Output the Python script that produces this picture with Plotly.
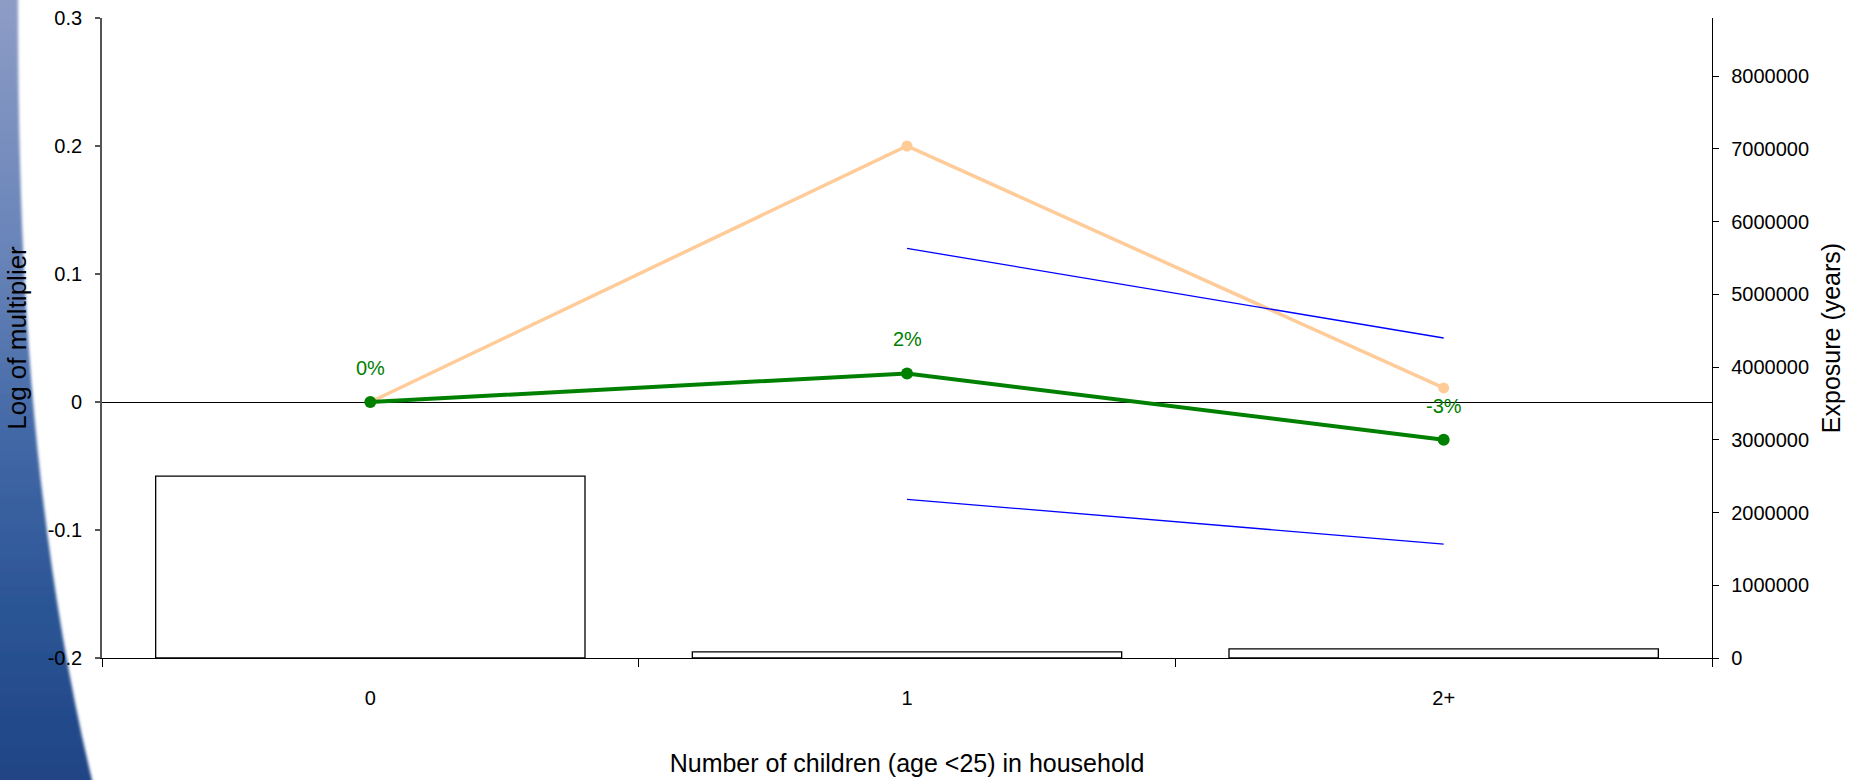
import base64
import math
import plotly.graph_objects as go

# ---- data -------------------------------------------------------------
categories = ["0", "1", "2+"]
exposure_years = [2500000, 85000, 125000]          # bars, right axis
fitted_log_mult = [0.0, 0.0223, -0.0295]            # green line
observed_log_mult = [0.0, 0.200, 0.011]             # peach line
band_categories = ["1", "2+"]
band_upper = [0.120, 0.050]                         # blue upper bound
band_lower = [-0.076, -0.111]                       # blue lower bound

left_tickvals = [-0.2, -0.1, 0.0, 0.1, 0.2, 0.3]
left_ticktext = ["-0.2", "-0.1", "0", "0.1", "0.2", "0.3"]
right_tickvals = [0, 1000000, 2000000, 3000000, 4000000,
                  5000000, 6000000, 7000000, 8000000]
right_ticktext = ["0", "1000000", "2000000", "3000000", "4000000",
                  "5000000", "6000000", "7000000", "8000000"]

W, H = 1866, 780
FONT = "Arial, Liberation Sans, sans-serif"
GREEN = "#008000"
PEACH = "#FFCC99"

# ---- decorative slide background (blue swoosh on the left edge) -------
svg = f"""<svg xmlns="http://www.w3.org/2000/svg" width="{W}" height="{H}" viewBox="0 0 {W} {H}">
<defs>
<linearGradient id="g" x1="0" y1="0" x2="0" y2="1">
<stop offset="0" stop-color="#8E9DC6"/>
<stop offset="0.33" stop-color="#6783B8"/>
<stop offset="0.55" stop-color="#4268A6"/>
<stop offset="0.75" stop-color="#2C5696"/>
<stop offset="1" stop-color="#1E4283"/>
</linearGradient>
<filter id="b" x="-1" y="-0.1" width="3" height="1.2"><feGaussianBlur stdDeviation="1.8"/></filter>
</defs>
<path d="M-20,-10 L18,-10 L18,0 C18,250 30,520 92,780 L96,800 L-20,800 Z" fill="url(#g)" filter="url(#b)"/>
</svg>"""
bg_uri = "data:image/svg+xml;base64," + base64.b64encode(svg.encode()).decode()

# ---- plot geometry (fractions of the page) ----------------------------
x_dom = [102 / W, 1712 / W]
y_dom = [(H - 658) / H, (H - 18) / H]
left_range = [-0.2, 0.3]
right_range = [0, 8800000]

fig = go.Figure()

fig.add_trace(go.Bar(
    x=categories, y=exposure_years, yaxis="y2", width=0.8,
    marker=dict(color="white", line=dict(color="black", width=1.3)),
    hoverinfo="skip", showlegend=False,
))
fig.add_trace(go.Scatter(
    x=categories, y=observed_log_mult, mode="lines+markers",
    line=dict(color=PEACH, width=3.5), marker=dict(color=PEACH, size=11),
    showlegend=False,
))
fig.add_trace(go.Scatter(
    x=band_categories, y=band_upper, mode="lines",
    line=dict(color="#0000FF", width=1.3), showlegend=False,
))
fig.add_trace(go.Scatter(
    x=band_categories, y=band_lower, mode="lines",
    line=dict(color="#0000FF", width=1.3), showlegend=False,
))
fig.add_trace(go.Scatter(
    x=categories, y=fitted_log_mult, mode="lines+markers",
    line=dict(color=GREEN, width=4), marker=dict(color=GREEN, size=12),
    showlegend=False,
))

# percentage labels above the fitted points
for cat, v in zip(categories, fitted_log_mult):
    pct = round((math.exp(v) - 1) * 100)
    fig.add_annotation(
        x=cat, y=v, xref="x", yref="y", text=f"{pct:d}%", showarrow=False,
        yshift=34, font=dict(family=FONT, size=20, color=GREEN),
    )

boundary_ticks = [i + 0.5 for i in range(len(categories) - 1)]

fig.update_layout(
    width=W, height=H,
    margin=dict(l=0, r=0, t=0, b=0),
    paper_bgcolor="white", plot_bgcolor="rgba(0,0,0,0)",
    font=dict(family=FONT, size=20, color="black"),
    bargap=0.2,
    images=[dict(source=bg_uri, xref="paper", yref="paper", x=0, y=1,
                 sizex=1, sizey=1, xanchor="left", yanchor="top",
                 sizing="stretch", layer="below")],
    xaxis=dict(
        domain=x_dom, type="category", categoryorder="array",
        categoryarray=categories, range=[-0.5, len(categories) - 0.5],
        automargin=False,
        tickson="boundaries", ticks="outside", ticklen=8, tickwidth=1.2,
        tickcolor="black", showline=True, linecolor="black", linewidth=1.3,
        showgrid=False, zeroline=False, ticklabelstandoff=22,
        tickfont=dict(size=20),
        title=dict(text="Number of children (age <25) in household",
                   font=dict(size=25), standoff=46),
    ),
    xaxis3=dict(
        overlaying="x", anchor="y", range=[-0.5, len(categories) - 0.5],
        automargin=False,
        tickvals=boundary_ticks, ticks="inside", ticklen=8, tickwidth=1.2,
        tickcolor="black", showticklabels=False, showline=False,
        showgrid=False, zeroline=False,
    ),
    yaxis=dict(
        domain=y_dom, range=left_range, tickvals=left_tickvals,
        automargin=False,
        ticktext=left_ticktext, ticks="outside", ticklen=5, tickwidth=1.5,
        tickcolor="#555555", showline=True, linecolor="#555555",
        linewidth=1.8, showgrid=False, zeroline=True, zerolinecolor="black",
        zerolinewidth=1.3, ticklabelstandoff=9, tickfont=dict(size=20),
        title=dict(text="Log of multiplier", font=dict(size=26), standoff=14),
    ),
    yaxis2=dict(
        overlaying="y", side="right", anchor="x", range=right_range,
        automargin=False,
        tickvals=right_tickvals, ticktext=right_ticktext, ticks="outside",
        ticklen=6, tickwidth=1.2, tickcolor="black", showline=True,
        linecolor="black", linewidth=1.3, showgrid=False, zeroline=False,
        ticklabelstandoff=8, tickfont=dict(size=20),
        title=dict(text="Exposure (years)", font=dict(size=25), standoff=14),
    ),
    yaxis4=dict(
        overlaying="y", side="right", anchor="x", range=right_range,
        automargin=False,
        tickvals=right_tickvals, ticks="inside", ticklen=6, tickwidth=1.2,
        tickcolor="black", showticklabels=False, showline=False,
        showgrid=False, zeroline=False,
    ),
)

fig.write_html("out.html")
